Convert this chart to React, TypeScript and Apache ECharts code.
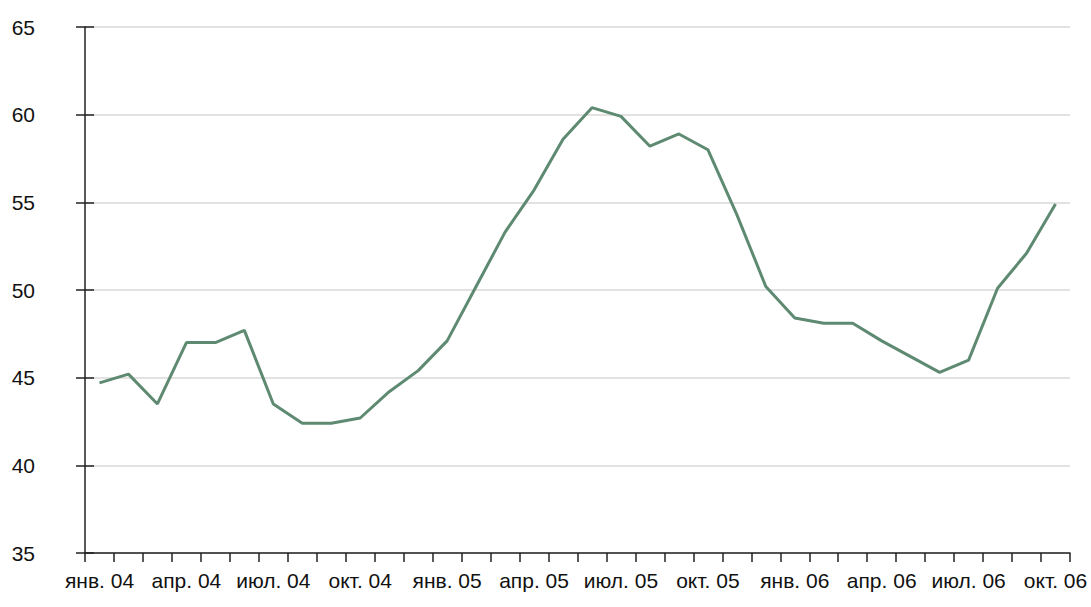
import React, { useEffect, useRef } from "react";
import * as echarts from "echarts";

const monthNames = ["янв.", "фев.", "мар.", "апр.", "май", "июн.", "июл.", "авг.", "сен.", "окт.", "ноя.", "дек."];
const years = ["04", "05", "06"];
const categories: string[] = [];
years.forEach((y) => monthNames.forEach((m) => categories.push(`${m} ${y}`)));
const months = categories.slice(0, 34);

const values = [
  44.7, 45.2, 43.5, 47.0, 47.0, 47.7, 43.5, 42.4, 42.4, 42.7, 44.2, 45.4,
  47.1, 50.2, 53.3, 55.7, 58.6, 60.4, 59.9, 58.2, 58.9, 58.0, 54.3, 50.2,
  48.4, 48.1, 48.1, 47.1, 46.2, 45.3, 46.0, 50.1, 52.1, 54.9,
];

const yMin = 35;
const yMax = 65;
const yStep = 5;

const FONT = "'Liberation Sans', Arial, sans-serif";

export default function App() {
  const ref = useRef<HTMLDivElement>(null);
  useEffect(() => {
    if (!ref.current) return;
    const chart = echarts.init(ref.current, null, { renderer: "svg" });
    chart.setOption({
      animation: false,
      backgroundColor: "#ffffff",
      grid: { left: 85, right: 21, top: 27, bottom: 54, containLabel: false },
      xAxis: {
        type: "category",
        data: months,
        boundaryGap: true,
        axisLine: { show: true, lineStyle: { color: "#222", width: 1.5 } },
        axisTick: { show: true, interval: 0, length: 9, lineStyle: { color: "#222", width: 1.5 } },
        axisLabel: {
          interval: 2,
          margin: 17,
          color: "#111",
          fontFamily: FONT,
          fontSize: 21,
        },
        splitLine: { show: false },
      },
      yAxis: [
        {
          type: "value",
          min: yMin,
          max: yMax,
          interval: yStep,
          axisLine: { show: true, lineStyle: { color: "#222", width: 1.5 } },
          axisTick: { show: true, length: 9, lineStyle: { color: "#222", width: 1.5 } },
          axisLabel: { margin: 50, color: "#111", fontFamily: FONT, fontSize: 21 },
          splitLine: { show: true, lineStyle: { color: "#d9d9d9", width: 1.5 } },
        },
        {
          type: "value",
          position: "left",
          min: yMin,
          max: yMax,
          interval: yStep,
          axisLine: { show: false },
          axisTick: { show: true, inside: true, length: 9, lineStyle: { color: "#222", width: 1.5 } },
          axisLabel: { show: false },
          splitLine: { show: false },
        },
      ],
      series: [
        {
          type: "line",
          data: values,
          yAxisIndex: 0,
          symbol: "none",
          smooth: false,
          lineStyle: { color: "#5f8a72", width: 3 },
          z: 5,
        },
      ],
    });
    return () => chart.dispose();
  }, []);
  return <div ref={ref} style={{ position: "fixed", left: 0, top: 0, width: 1091, height: 607 }} />;
}
